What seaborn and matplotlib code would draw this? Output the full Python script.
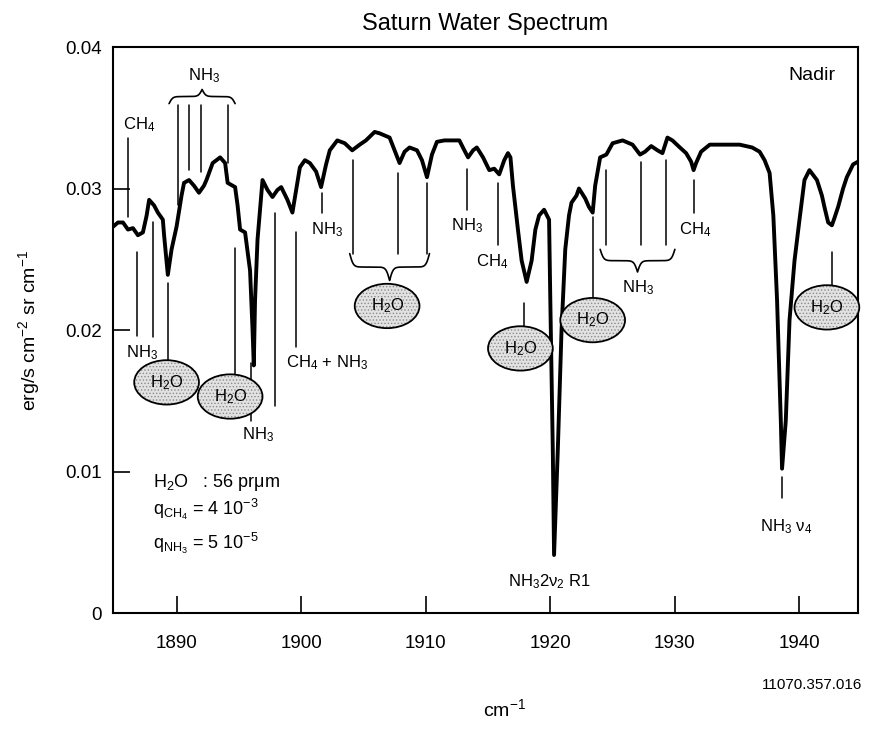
import numpy as np
import matplotlib
matplotlib.use('Agg')
import matplotlib.pyplot as plt
import seaborn as sns

# spectrum (wavenumber cm-1, radiance erg/s cm-2 sr cm-1)
wavenumber = [
    1884.9, 1885.3, 1885.7, 1886.1, 1886.5, 1886.9, 1887.3, 1887.6, 1887.8, 1888.2,
    1888.5, 1888.9, 1889.0, 1889.3, 1889.6, 1890.0, 1890.4, 1890.6, 1891.0, 1891.4,
    1891.8, 1892.2, 1892.4, 1892.9, 1893.5, 1893.9, 1894.1, 1894.7, 1894.9, 1895.1,
    1895.5, 1895.9, 1896.1, 1896.2, 1896.3, 1896.5, 1896.7, 1896.9, 1897.3, 1897.7,
    1898.1, 1898.4, 1898.9, 1899.3, 1899.6, 1899.9, 1900.3, 1900.7, 1901.2, 1901.6,
    1902.0, 1902.3, 1902.9, 1903.5, 1904.1, 1904.7, 1905.2, 1905.9, 1906.3, 1907.1,
    1907.9, 1908.3, 1908.7, 1909.3, 1909.7, 1910.1, 1910.5, 1910.9, 1911.5, 1912.7,
    1913.1, 1913.4, 1913.8, 1914.1, 1914.6, 1915.1, 1915.5, 1915.9, 1916.3, 1916.6,
    1916.8, 1917.0, 1917.4, 1917.7, 1918.1, 1918.5, 1918.8, 1919.1, 1919.5, 1919.9,
    1920.0, 1920.2, 1920.3, 1920.6, 1920.9, 1921.2, 1921.5, 1921.7, 1922.1, 1922.3,
    1922.8, 1923.1, 1923.4, 1923.6, 1924.0, 1924.5, 1925.0, 1925.8, 1926.6, 1927.2,
    1927.6, 1928.1, 1928.6, 1929.0, 1929.4, 1929.8, 1930.4, 1930.9, 1931.3, 1931.5,
    1931.7, 1932.1, 1932.8, 1933.6, 1935.2, 1936.2, 1936.8, 1937.2, 1937.6, 1937.9,
    1938.2, 1938.5, 1938.6, 1938.9, 1939.2, 1939.6, 1940.0, 1940.4, 1940.8, 1941.4,
    1941.8, 1942.0, 1942.3, 1942.6, 1942.8, 1943.1, 1943.5, 1943.8, 1944.3, 1944.7,
]
radiance = [
    0.0273, 0.0276, 0.0276, 0.0271, 0.0272, 0.0267, 0.0269, 0.0281, 0.0292, 0.0288,
    0.0283, 0.0278, 0.0267, 0.0239, 0.0257, 0.0273, 0.0295, 0.0304, 0.0306, 0.0302,
    0.0297, 0.0302, 0.0306, 0.0318, 0.0322, 0.0318, 0.0304, 0.0301, 0.0288, 0.0271,
    0.0269, 0.0242, 0.0200, 0.0175, 0.0221, 0.0264, 0.0285, 0.0306, 0.0299, 0.0294,
    0.0299, 0.0301, 0.0292, 0.0283, 0.0299, 0.0315, 0.0320, 0.0318, 0.0312, 0.0301,
    0.0317, 0.0327, 0.0334, 0.0332, 0.0327, 0.0331, 0.0334, 0.0340, 0.0339, 0.0336,
    0.0318, 0.0326, 0.0329, 0.0327, 0.0320, 0.0308, 0.0324, 0.0333, 0.0334, 0.0334,
    0.0327, 0.0322, 0.0327, 0.0329, 0.0322, 0.0313, 0.0314, 0.0310, 0.0320, 0.0325,
    0.0322, 0.0302, 0.0271, 0.0249, 0.0234, 0.0249, 0.0271, 0.0281, 0.0285, 0.0278,
    0.0221, 0.0115, 0.0041, 0.0115, 0.0200, 0.0257, 0.0281, 0.0290, 0.0295, 0.0300,
    0.0293, 0.0287, 0.0283, 0.0302, 0.0322, 0.0324, 0.0332, 0.0334, 0.0331, 0.0324,
    0.0326, 0.0330, 0.0327, 0.0325, 0.0336, 0.0334, 0.0329, 0.0325, 0.0319, 0.0313,
    0.0318, 0.0326, 0.0331, 0.0331, 0.0331, 0.0329, 0.0326, 0.0320, 0.0311, 0.0281,
    0.0221, 0.0136, 0.0102, 0.0136, 0.0207, 0.0249, 0.0278, 0.0306, 0.0313, 0.0306,
    0.0295, 0.0287, 0.0276, 0.0274, 0.0279, 0.0287, 0.0300, 0.0308, 0.0317, 0.0319,
]

x_ticks = [1890, 1900, 1910, 1920, 1930, 1940]
y_ticks = [0, 0.01, 0.02, 0.03, 0.04]
y_tick_labels = ['0', '0.01', '0.02', '0.03', '0.04']

# line identifications: (x, y top, y bottom)
id_lines = [
    (1886.1, 0.0336, 0.0280),
    (1890.1, 0.0359, 0.0288), (1891.0, 0.0359, 0.0313),
    (1892.0, 0.0359, 0.0312), (1894.1, 0.0359, 0.0318),
    (1886.8, 0.0255, 0.0196), (1888.1, 0.0276, 0.0195),
    (1889.3, 0.0233, 0.0177),
    (1894.7, 0.0258, 0.0167),
    (1896.0, 0.0177, 0.0136),
    (1897.9, 0.0283, 0.0146),
    (1899.6, 0.0269, 0.0188),
    (1901.7, 0.0297, 0.0283),
    (1904.2, 0.0320, 0.0254), (1907.8, 0.0311, 0.0254), (1910.1, 0.0304, 0.0254),
    (1913.3, 0.0314, 0.0285),
    (1915.8, 0.0304, 0.0260),
    (1917.9, 0.0219, 0.0201),
    (1923.4, 0.0280, 0.0223),
    (1924.5, 0.0313, 0.0260), (1927.3, 0.0319, 0.0260), (1929.3, 0.0320, 0.0260),
    (1931.5, 0.0306, 0.0283),
    (1942.6, 0.0255, 0.0230),
    (1938.6, 0.0096, 0.0081),
]
id_labels = [
    (1887.0, 0.0345, r'CH$_4$', 'center'),
    (1892.2, 0.0380, r'NH$_3$', 'center'),
    (1887.2, 0.0184, r'NH$_3$', 'center'),
    (1896.5, 0.0126, r'NH$_3$', 'center'),
    (1898.8, 0.0177, r'CH$_4$ + NH$_3$', 'left'),
    (1902.1, 0.0271, r'NH$_3$', 'center'),
    (1913.3, 0.0274, r'NH$_3$', 'center'),
    (1915.3, 0.0248, r'CH$_4$', 'center'),
    (1927.0, 0.0230, r'NH$_3$', 'center'),
    (1931.6, 0.0271, r'CH$_4$', 'center'),
    (1938.9, 0.0061, r'NH$_3$ ν$_4$', 'center'),
    (1919.9, 0.0022, r'NH$_3$2ν$_2$ R1', 'center'),
]
water_marks = [(1889.2, 0.0163), (1894.3, 0.0153), (1906.9, 0.0217),
               (1917.6, 0.0187), (1923.4, 0.0207), (1942.2, 0.0216)]
# braces: (x start, x end, y of the ends, height to tip)
braces = [(1889.4, 1894.7, 0.0360, 0.0010),
          (1903.9, 1910.3, 0.0254, -0.0019),
          (1924.0, 1930.0, 0.0257, -0.0016)]
params = [r'H$_2$O   : 56 prμm',
          r'q$_{\mathrm{CH}_4}$ = 4 10$^{-3}$',
          r'q$_{\mathrm{NH}_3}$ = 5 10$^{-5}$']
params_y = [0.0092, 0.0073, 0.0049]

sns.set_theme(style='white')
plt.rcParams['font.family'] = ['Liberation Sans', 'DejaVu Sans']
plt.rcParams['mathtext.fontset'] = 'custom'
plt.rcParams['mathtext.rm'] = 'Liberation Sans'
plt.rcParams['mathtext.it'] = 'Liberation Sans:italic'
plt.rcParams['mathtext.bf'] = 'Liberation Sans:bold'
plt.rcParams['text.color'] = 'black'
plt.rcParams['axes.labelcolor'] = 'black'
plt.rcParams['hatch.linewidth'] = 0.6


def draw_brace(ax, x0, x1, y, h, beta=7.0):
    xs = np.linspace(x0, x1, 201)
    half = xs[:101]
    s = 1 / (1 + np.exp(-beta * (half - half[0]))) + 1 / (1 + np.exp(-beta * (half - half[-1])))
    shape = np.concatenate([s, s[-2::-1]])
    ax.plot(xs, y + h * (shape - 0.5), color='black', lw=1.2)


fig = plt.figure(figsize=(8.72, 7.29), dpi=100)
ax = fig.add_axes([0.1296, 0.1591, 0.8544, 0.7764])

df = {'wn': wavenumber, 'rad': radiance}
sns.lineplot(x='wn', y='rad', data=df, color='black', lw=2.8, ax=ax,
             solid_joinstyle='round', solid_capstyle='round')

for x, y0, y1 in id_lines:
    ax.plot([x, x], [y0, y1], color='black', lw=1.1)
for x, y, t, ha in id_labels:
    ax.text(x, y, t, fontsize=12, ha=ha, va='center')
for x0, x1, y, h in braces:
    draw_brace(ax, x0, x1, y, h)
for x, y in water_marks:
    # stippled fill first, then the outline with the label
    ax.text(x, y, r'H$_2$O', fontsize=12, ha='center', va='center', color='none',
            bbox=dict(boxstyle='ellipse,pad=0.38', fc='#e2e2e2', ec='#8c8c8c',
                      lw=0, hatch='.....'))
    ax.text(x, y, r'H$_2$O', fontsize=12, ha='center', va='center',
            bbox=dict(boxstyle='ellipse,pad=0.38', fc='none', ec='black', lw=1.3))
for t, y in zip(params, params_y):
    ax.text(1888.1, y, t, fontsize=13, ha='left', va='center')
ax.text(1941.0, 0.0380, 'Nadir', fontsize=14, ha='center', va='center')

ax.set_xlim(1884.9, 1944.7)
ax.set_ylim(0, 0.04)
ax.set_xticks(x_ticks)
ax.set_yticks(y_ticks)
ax.set_yticklabels(y_tick_labels)
ax.tick_params(axis='both', direction='in', length=12, width=1.2, colors='black',
               labelsize=13.5, top=False, right=False, left=True, bottom=True)
ax.tick_params(axis='x', pad=16)
ax.tick_params(axis='y', pad=8)
for sp in ax.spines.values():
    sp.set_color('black')
    sp.set_linewidth(1.5)

ax.set_title('Saturn Water Spectrum', fontsize=17, pad=12)
ax.set_xlabel('cm$^{-1}$', fontsize=14)
ax.xaxis.set_label_coords(0.526, -0.15)
ax.set_ylabel('erg/s cm$^{-2}$ sr cm$^{-1}$', fontsize=14)
ax.yaxis.set_label_coords(-0.095, 0.5)
fig.text(812 / 872, 1 - 685 / 729, '11070.357.016', fontsize=11, ha='center', va='center')

fig.savefig('out.png', dpi=100)
